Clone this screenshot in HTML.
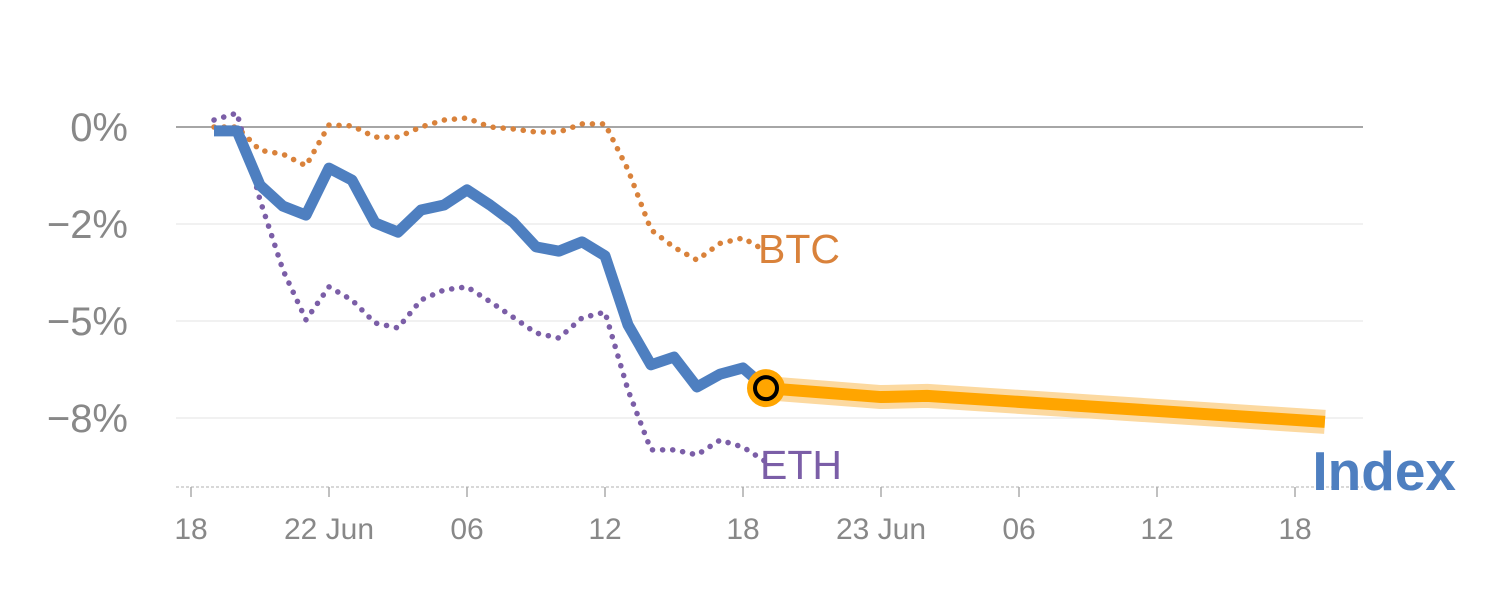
<!DOCTYPE html>
<html><head><meta charset="utf-8"><style>
body{margin:0;background:#fff;width:1500px;height:600px;overflow:hidden}
svg{font-family:"Liberation Sans",Arial,sans-serif}
</style></head><body>
<svg id="chart" width="1500" height="600" xmlns="http://www.w3.org/2000/svg"></svg>
<script>
const yTicks=[0,-2.5,-5,-7.5];
const yTickLabels=["0%","−2%","−5%","−8%"];
const xTickIdx=[0,6,12,18,24,30,36,42,48];
const xTickLabels=["18","22 Jun","06","12","18","23 Jun","06","12","18"];
const indexIdx=[1,2,3,4,5,6,7,8,9,10,11,12,13,14,15,16,17,18,19,20,21,22,23,24,25];
const indexVals=[-0.1,-0.1,-1.5,-2.04,-2.27,-1.06,-1.37,-2.47,-2.71,-2.14,-2.01,-1.62,-2.01,-2.45,-3.09,-3.2,-2.96,-3.32,-5.1,-6.13,-5.93,-6.7,-6.37,-6.21,-6.73];
const btcVals=[0,0,-0.6,-0.7,-1.0,0.05,0.03,-0.26,-0.26,0,0.18,0.23,0,-0.05,-0.13,-0.13,0.08,0.08,-1.1,-2.65,-3.1,-3.43,-3.0,-2.86,-3.2];
const ethVals=[0.18,0.36,-1.88,-3.69,-4.97,-4.12,-4.46,-5.05,-5.18,-4.46,-4.2,-4.12,-4.5,-4.9,-5.31,-5.44,-4.92,-4.77,-6.78,-8.32,-8.32,-8.45,-8.07,-8.25,-8.63];
const fcIdx=[25,30,32,49.3];
const fcVals=[-6.73,-6.96,-6.93,-7.6];

const X=i=>191+23*i;
const Y=v=>127-v*38.8;
const svg=document.getElementById('chart');
const NS="http://www.w3.org/2000/svg";
function mk(tag,attrs,text){const e=document.createElementNS(NS,tag);for(const k in attrs)e.setAttribute(k,attrs[k]);if(text!==undefined)e.textContent=text;svg.appendChild(e);return e;}
function pts(idx,vals){return idx.map((i,k)=>X(i)+","+Y(vals[k])).join(" ");}

yTicks.forEach((t,k)=>{
  const l=mk('line',{x1:176,x2:1363,y1:Y(t),y2:Y(t),stroke:t===0?'#888':'#e3e3e3','stroke-width':t===0?1.5:1});
  
  
  const tx=mk('text',{x:128,y:Y(t)+14,'text-anchor':'end','font-size':40,fill:'#888'},yTickLabels[k]);
  
  
});
const ax=mk('line',{x1:176,x2:1363,y1:487,y2:487,stroke:'#ccc','stroke-width':1.5,'stroke-dasharray':'3,2'});


xTickIdx.forEach((i,k)=>{
  const t=mk('line',{x1:X(i),x2:X(i),y1:487,y2:497,stroke:'#aaa','stroke-width':1.5});
  
  
  const tx=mk('text',{x:X(i),y:539,'text-anchor':'middle','font-size':30,fill:'#888'},xTickLabels[k]);
  
  
});
const b=mk('polyline',{points:pts(indexIdx,btcVals),fill:'none',stroke:'#d9823b','stroke-width':5.5,'stroke-dasharray':'0.1,10','stroke-linecap':'round'});


const e=mk('polyline',{points:pts(indexIdx,ethVals),fill:'none',stroke:'#7b5ea7','stroke-width':5.5,'stroke-dasharray':'0.1,10','stroke-linecap':'round'});


const fh=mk('polyline',{points:pts(fcIdx,fcVals),fill:'none',stroke:'#fcd9a0','stroke-width':24,'stroke-linejoin':'round'});


const f=mk('polyline',{points:pts(fcIdx,fcVals),fill:'none',stroke:'#ffa500','stroke-width':12,'stroke-linejoin':'round'});


const ix=mk('polyline',{points:pts(indexIdx,indexVals),fill:'none',stroke:'#4e7fc0','stroke-width':11,'stroke-linejoin':'round'});


const last=indexIdx.length-1;
const c=mk('circle',{cx:X(indexIdx[last]),cy:Y(indexVals[last]),r:19,fill:'#ffa500'});


const c2=mk('circle',{cx:X(indexIdx[last]),cy:Y(indexVals[last]),r:11,fill:'#ffa500',stroke:'#000','stroke-width':4});


const bl=mk('text',{x:758,y:263,'font-size':41,fill:'#d9823b'},'BTC');


const el=mk('text',{x:760,y:479,'font-size':41,fill:'#7b5ea7'},'ETH');


const il=mk('text',{x:1456,y:490,'font-size':55,'font-weight':'bold','text-anchor':'end',fill:'#4e7fc0'},'Index');


</script>
</body></html>
